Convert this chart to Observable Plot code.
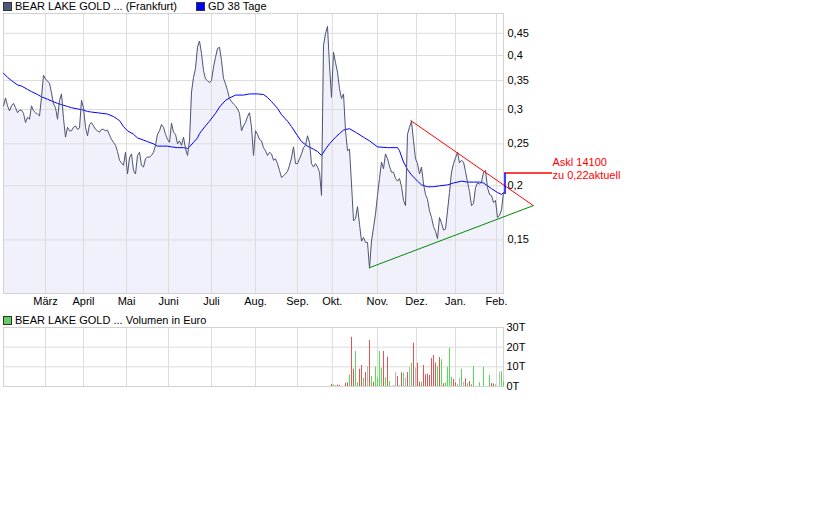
<!DOCTYPE html>
<html><head><meta charset="utf-8">
<script src="https://cdn.jsdelivr.net/npm/d3@7"></script>
<script src="https://cdn.jsdelivr.net/npm/@observablehq/plot@0.6"></script>
<style>
body{margin:0;background:#fff;}
#wrap{position:relative;width:840px;height:525px;background:#fff;font-family:"Liberation Sans",Arial,sans-serif;font-size:11px;color:#000;overflow:hidden;}
.leg{position:absolute;z-index:2;white-space:nowrap;line-height:12px;}
.sq{position:absolute;z-index:2;width:7px;height:7px;border:1px solid #333;}
.chart{position:absolute;left:0;}
.chart svg{overflow:visible;}
</style></head><body><div id="wrap"></div>
<script>
// ---- data (x = trading-day index) ----
const monthTicks = [21, 40, 61.5, 82.5, 104, 126, 147, 164.4, 187, 206.5, 226, 246.5];
const monthLabels = ["März", "April", "Mai", "Juni", "Juli", "Aug.", "Sep.", "Okt.", "Nov.", "Dez.", "Jan.", "Feb."];
const priceTicks = [0.15, 0.2, 0.25, 0.3, 0.35, 0.4, 0.45];
const volTicks = [0, 10000, 20000, 30000];

const price = [
0.306,0.319,0.306,0.298,0.306,0.310,0.303,0.295,0.299,0.299,
0.294,0.280,0.288,0.285,0.306,0.298,0.295,0.293,0.290,0.320,
0.360,0.353,0.349,0.345,0.328,0.309,0.303,0.285,0.315,0.326,
0.286,0.259,0.273,0.268,0.268,0.273,0.275,0.270,0.272,0.315,
0.303,0.273,0.261,0.277,0.280,0.275,0.270,0.268,0.266,0.270,
0.270,0.268,0.269,0.262,0.256,0.252,0.248,0.240,0.229,0.226,
0.223,0.239,0.213,0.232,0.237,0.217,0.213,0.235,0.239,0.223,
0.221,0.231,0.233,0.233,0.235,0.239,0.248,0.263,0.268,0.277,
0.273,0.263,0.256,0.252,0.279,0.266,0.263,0.250,0.254,0.248,
0.259,0.244,0.235,0.254,0.329,0.356,0.373,0.418,0.432,0.404,
0.369,0.353,0.350,0.346,0.350,0.376,0.396,0.415,0.418,0.389,
0.354,0.344,0.332,0.318,0.313,0.309,0.306,0.301,0.294,0.268,
0.275,0.280,0.289,0.295,0.273,0.235,0.268,0.263,0.256,0.254,
0.245,0.241,0.235,0.239,0.237,0.229,0.231,0.225,0.217,0.209,
0.211,0.213,0.216,0.223,0.232,0.246,0.225,0.225,0.231,0.237,
0.245,0.248,0.261,0.252,0.225,0.221,0.225,0.221,0.215,0.190,
0.422,0.449,0.467,0.379,0.320,0.407,0.385,0.366,0.335,0.318,
0.326,0.268,0.241,0.243,0.202,0.166,0.168,0.179,0.163,0.149,
0.152,0.148,0.148,0.129,0.149,0.160,0.172,0.190,0.208,0.227,
0.219,0.237,0.231,0.222,0.215,0.215,0.208,0.205,0.208,0.199,
0.185,0.180,0.263,0.273,0.282,0.254,0.231,0.225,0.213,0.221,
0.202,0.191,0.186,0.175,0.169,0.161,0.157,0.151,0.169,0.164,
0.158,0.159,0.175,0.193,0.215,0.225,0.232,0.239,0.226,0.229,
0.227,0.216,0.204,0.194,0.180,0.182,0.198,0.203,0.202,0.204,
0.215,0.217,0.198,0.191,0.190,0.183,0.185,0.169,0.171,0.176,0.193];

const gdDay = [0,2,4,7,9,12,14,17,19,22,24,27,29,32,34,37,39,42,44,47,49,52,55,57,58,60,62,65,67,70,72,75,77,80,82,84,87,90,92,93,95,97,98,101,103,106,108,111,113,116,120,123,127,130,132,134,137,139,142,144,147,149,152,155,157,159,161,163,166,168,170,173,176,180,183,187,192,197,198,200,202,204,207,209,212,215,218,222,225,229,232,235,238,240,242,244,247,249,250];
const gd38 = [0.364,0.356,0.350,0.342,0.340,0.334,0.330,0.325,0.321,0.317,
0.314,0.310,0.308,0.305,0.303,0.301,0.300,0.297,0.296,0.295,
0.294,0.293,0.289,0.285,0.283,0.274,0.268,0.263,0.258,0.255,
0.253,0.250,0.247,0.247,0.247,0.246,0.245,0.245,0.244,0.246,
0.252,0.258,0.264,0.275,0.282,0.294,0.304,0.315,0.319,0.324,
0.324,0.326,0.326,0.325,0.320,0.313,0.302,0.292,0.282,0.274,
0.261,0.253,0.247,0.243,0.240,0.235,0.243,0.250,0.259,0.264,
0.269,0.271,0.266,0.259,0.254,0.246,0.245,0.245,0.241,0.227,
0.218,0.212,0.205,0.201,0.199,0.199,0.200,0.201,0.203,0.205,
0.204,0.204,0.204,0.203,0.200,0.197,0.193,0.191,0.193];

const volDay = [164,165,166,167,168,171,172,173,174,175,176,177,178,179,180,181,182,183,184,185,186,187,188,189,190,191,192,193,195,196,197,198,199,200,201,202,203,204,205,206,207,208,209,210,211,212,213,214,215,216,217,218,219,220,221,222,223,224,225,226,227,228,229,230,231,232,233,234,235,238,240,243,244,245,246,248,249,250];
const volume = [1000,800,500,800,500,1700,1900,5900,25000,8800,
17800,1900,8800,10700,4200,7100,10200,23400,5100,2200,
9800,4200,17800,9300,17800,4400,14900,2500,500,7100,
5100,500,6900,6800,4200,7100,9700,11900,22000,9300,
11900,2200,2200,10700,5900,6300,5600,14200,15800,11900,
10200,14700,13600,1400,1900,9800,19500,4700,3600,1900,
800,4200,8800,2200,3900,1400,2500,800,10200,1900,
9800,5600,1500,1300,800,7100,7600,2200];
const volDir = ["down","up","flat","down","down","down","down","up","down","down",
"up","up","down","down","up","down","flat","down","up","down",
"up","up","up","up","down","up","down","up","flat","flat",
"down","flat","down","up","flat","down","flat","up","down","flat",
"down","down","up","down","down","down","down","down","down","down",
"up","down","up","down","up","up","up","up","down","down",
"up","flat","up","flat","down","up","down","down","up","up",
"up","up","down","down","up","flat","up","up"];

// drawn annotations
const resistDay = [203.6, 264.9], resistVal = [0.283, 0.180];
const supportDay = [183, 264.9], supportVal = [0.1294, 0.180];
const askLevel = 0.214, askLineDay = [250.75, 274.5], askFrom = 0.191;
const askTextLines = ["Askl 14100", "zu 0,22aktuell"];
const askTextVal = [0.226, 0.211];

// ---- build ----
const Y0 = 0.1128, Y1 = 0.5;
const priceData = price.map((v, i) => ({i, v}));
const gdData = gdDay.map((d, k) => ({i: d, v: gd38[k]}));
const volData = volDay.map((d, k) => ({i: d, v: volume[k], dir: volDir[k]}));
const dirColor = {up: "#55dd55", down: "#e25555", flat: "#b8b8b8"};
const monthMap = new Map(monthTicks.map((t, k) => [t, monthLabels[k]]));
const comma = d => String(d).replace(".", ",");
const gridCol = "#dcdcdc";
const font = {fontFamily: "'Liberation Sans', Arial, sans-serif", fontSize: "11px", color: "#000", background: "transparent"};

const main = Plot.plot({
  width: 840, height: 310,
  marginTop: 13, marginBottom: 17, marginLeft: 3, marginRight: 337,
  style: font,
  x: {type: "linear", domain: [0, 250], label: null},
  y: {type: "log", domain: [Y0, Y1], label: null},
  marks: [
    Plot.areaY(priceData, {x: "i", y1: Y0, y2: "v", fill: "#f1f1fb"}),
    Plot.gridX(monthTicks, {stroke: gridCol, strokeOpacity: 1}),
    Plot.gridY(priceTicks, {stroke: gridCol, strokeOpacity: 1}),
    Plot.frame({stroke: "#d2d2d2"}),
    Plot.line(gdData, {x: "i", y: "v", stroke: "#0000ff", strokeWidth: 1}),
    Plot.line(priceData, {x: "i", y: "v", stroke: "#4c5474", strokeWidth: 1}),
    Plot.line(resistDay.map((d, k) => [d, resistVal[k]]), {stroke: "#ff0000", strokeWidth: 1}),
    Plot.line(supportDay.map((d, k) => [d, supportVal[k]]), {stroke: "#008a00", strokeWidth: 1}),
    Plot.ruleY([askLevel], {x1: askLineDay[0], x2: askLineDay[1], stroke: "#ff0000", strokeWidth: 1.5}),
    Plot.ruleX([askLineDay[0]], {y1: askFrom, y2: askLevel, stroke: "#0000ff", strokeWidth: 1.5}),
    Plot.text(askTextLines, {x: () => askLineDay[1], y: (d, k) => askTextVal[k], text: d => d, textAnchor: "start", fill: "#ff0000", fontSize: 11}),
    Plot.axisX(monthTicks, {tickSize: 0, tickPadding: 4, tickFormat: d => monthMap.get(d), fill: "#000", label: null}),
    Plot.axisY(priceTicks, {anchor: "right", tickSize: 0, tickPadding: 4, tickFormat: comma, fill: "#000", label: null})
  ]
});

const volMarks = [
  Plot.gridX(monthTicks, {stroke: gridCol, strokeOpacity: 1}),
  Plot.gridY(volTicks, {stroke: gridCol, strokeOpacity: 1}),
  Plot.frame({stroke: "#d2d2d2"})
];
for (const dir of ["flat", "down", "up"]) {
  volMarks.push(Plot.rectY(volData.filter(d => d.dir === dir), {
    x1: "i", x2: d => d.i + 0.5, y1: 0, y2: "v",
    fill: dirColor[dir], inset: 0
  }));
}
volMarks.push(Plot.axisY(volTicks, {anchor: "right", tickSize: 0, tickPadding: 3, tickFormat: d => (d / 1000) + "T", fill: "#000", label: null}));

const vol = Plot.plot({
  width: 840, height: 78,
  marginTop: 9, marginBottom: 10, marginLeft: 3, marginRight: 337,
  style: font,
  x: {type: "linear", domain: [0, 250], axis: null, label: null},
  y: {domain: [0, 30000], label: null},
  marks: volMarks
});

const wrap = document.getElementById("wrap");
function place(el, top) { const d = document.createElement("div"); d.className = "chart"; d.style.top = top + "px"; d.appendChild(el); wrap.appendChild(d); }
place(main, 0);
place(vol, 318);
function legend(x, y, color, text) {
  const s = document.createElement("div"); s.className = "sq"; s.style.left = x + "px"; s.style.top = (y + 2) + "px"; s.style.background = color; wrap.appendChild(s);
  const t = document.createElement("div"); t.className = "leg"; t.style.left = (x + 12) + "px"; t.style.top = y + "px"; t.textContent = text; wrap.appendChild(t);
}
legend(3, 0, "#4f5878", "BEAR LAKE GOLD ... (Frankfurt)");
legend(196, 0, "#0000ff", "GD 38 Tage");
legend(3, 314, "#66cc66", "BEAR LAKE GOLD ... Volumen in Euro");
</script></body></html>
